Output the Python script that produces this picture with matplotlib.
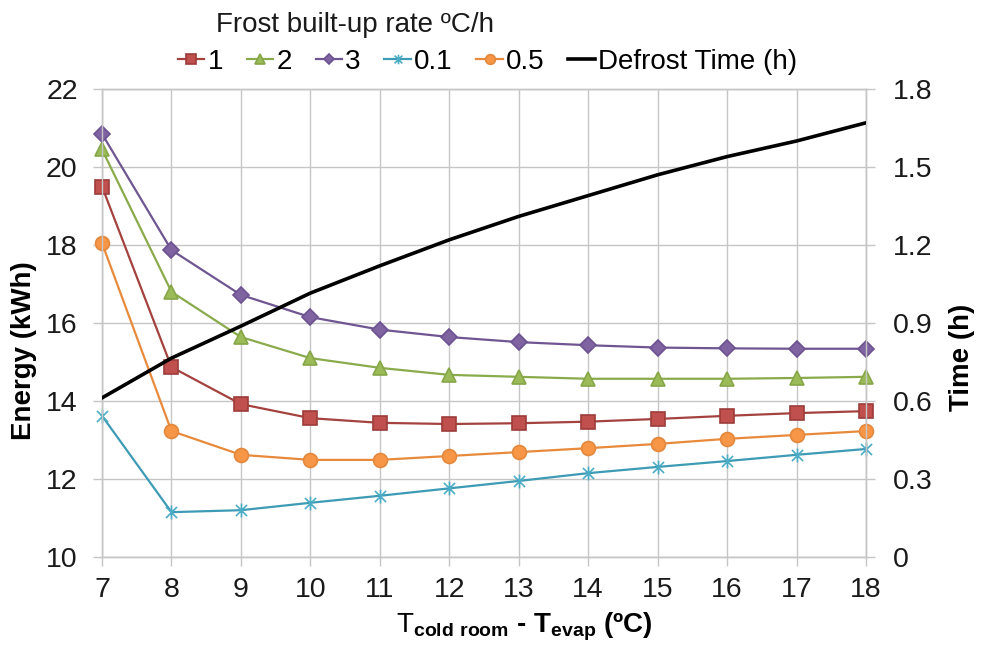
import matplotlib
matplotlib.use("Agg")
import matplotlib.pyplot as plt
from matplotlib.path import Path

# x axis: temperature difference between cold room and evaporator (ºC)
dt = [7, 8, 9, 10, 11, 12, 13, 14, 15, 16, 17, 18]

# energy (kWh) per frost built-up rate (ºC/h)
e_rate1 = [19.50, 14.87, 13.92, 13.56, 13.44, 13.41, 13.43, 13.47, 13.54, 13.62, 13.69, 13.74]
e_rate2 = [20.45, 16.80, 15.64, 15.10, 14.85, 14.67, 14.62, 14.57, 14.57, 14.57, 14.59, 14.62]
e_rate3 = [20.85, 17.87, 16.72, 16.15, 15.83, 15.64, 15.51, 15.43, 15.37, 15.35, 15.34, 15.34]
e_rate01 = [13.62, 11.15, 11.20, 11.39, 11.57, 11.76, 11.95, 12.15, 12.31, 12.46, 12.62, 12.77]
e_rate05 = [18.05, 13.23, 12.62, 12.49, 12.49, 12.59, 12.69, 12.79, 12.90, 13.03, 13.13, 13.23]

# defrost time (h), right axis
defrost_h = [0.612, 0.765, 0.888, 1.015, 1.12, 1.22, 1.31, 1.39, 1.47, 1.54, 1.60, 1.67]

rate_labels = ["1", "2", "3", "0.1", "0.5"]
left_ticks = [10, 12, 14, 16, 18, 20, 22]
right_ticks = [0, 0.3, 0.6, 0.9, 1.2, 1.5, 1.8]
right_ticklabels = ["0", "0.3", "0.6", "0.9", "1.2", "1.5", "1.8"]

plt.rcParams["font.family"] = ["Liberation Sans", "DejaVu Sans"]
plt.rcParams["mathtext.fontset"] = "custom"
plt.rcParams["mathtext.rm"] = "Liberation Sans"
plt.rcParams["mathtext.bf"] = "Liberation Sans:bold"

GRID = "#c6c6c6"
FS = 20.5

# excel-like "star" marker: an x with a vertical bar through it
star = Path([(-1, -1), (1, 1), (-1, 1), (1, -1), (0, -1.25), (0, 1.25)],
            [Path.MOVETO, Path.LINETO, Path.MOVETO, Path.LINETO, Path.MOVETO, Path.LINETO])

styles = [
    # (values, line colour, marker, face, edge, size)
    (e_rate1, "#a4423f", "s", "#c0504d", "#9c3c39", 10),
    (e_rate2, "#8aab4c", "^", "#9bbb59", "#86a648", 10),
    (e_rate3, "#6f5591", "D", "#8064a2", "#6c5290", 8),
    (e_rate01, "#3d9bb5", star, "#4bacc6", "#4bacc6", 10),
    (e_rate05, "#e88a3c", "o", "#f79646", "#e3883d", 10),
]

fig = plt.figure(figsize=(9.83, 6.49), dpi=100)
ax = fig.add_axes([102 / 983, 92 / 649, 764 / 983, 468 / 649])

handles = []
for (vals, lc, mk, fc, ec, ms), lab in zip(styles, rate_labels):
    h, = ax.plot(dt, vals, color=lc, lw=1.6, marker=mk, markersize=ms,
                 markerfacecolor=fc, markeredgecolor=ec, markeredgewidth=1.2,
                 label=lab, zorder=3, clip_on=False)
    handles.append(h)

ax.set_xlim(7, 18)
ax.set_ylim(10, 22)
ax.set_xticks(dt)
ax.set_yticks(left_ticks)
ax.grid(True, color=GRID, lw=1.0)
ax.set_axisbelow(True)
for s in ax.spines.values():
    s.set_color(GRID)
    s.set_linewidth(1.0)
ax.tick_params(axis="both", colors=GRID, labelcolor="#1a1a1a", length=6.5,
               width=1.0, labelsize=FS)
ax.tick_params(axis="y", pad=11)
ax.tick_params(axis="x", pad=8)

ax.set_ylabel("Energy (kWh)", fontsize=20, fontweight="bold")
ax.yaxis.set_label_coords(-0.085, 0.44)
ax.set_xlabel(r"$\mathrm{T}_{\mathbf{cold\ room}}$ - T$_{\mathbf{evap}}$ (ºC)",
              fontsize=20, fontweight="bold")
ax.xaxis.set_label_coords(0.553, -0.115)

ax2 = ax.twinx()
hd, = ax2.plot(dt, defrost_h, color="black", lw=2.6, label="Defrost Time (h)",
               zorder=4)
handles.append(hd)
ax2.set_ylim(0, 1.8)
ax2.set_yticks(right_ticks)
ax2.set_yticklabels(right_ticklabels)
for s in ax2.spines.values():
    s.set_color(GRID)
    s.set_linewidth(1.0)
ax2.tick_params(axis="y", colors=GRID, labelcolor="#1a1a1a", length=6.5,
                width=1.0, labelsize=FS, pad=13)
ax2.set_ylabel("Time (h)", fontsize=20, fontweight="bold")
ax2.yaxis.set_label_coords(1.109, 0.427)

fig.text(216 / 983, 1 - 25 / 649, "Frost built-up rate ºC/h", fontsize=20,
         ha="left", va="center", color="#1a1a1a")
fig.legend(handles=handles, labels=[h.get_label() for h in handles],
           loc="center left", bbox_to_anchor=(178 / 983, 1 - 62 / 649),
           ncol=6, frameon=False, fontsize=20, handlelength=0.95,
           handletextpad=0.12, columnspacing=0.85, borderpad=0, borderaxespad=0,
           markerscale=0.7)

fig.savefig("out.png", dpi=100)
